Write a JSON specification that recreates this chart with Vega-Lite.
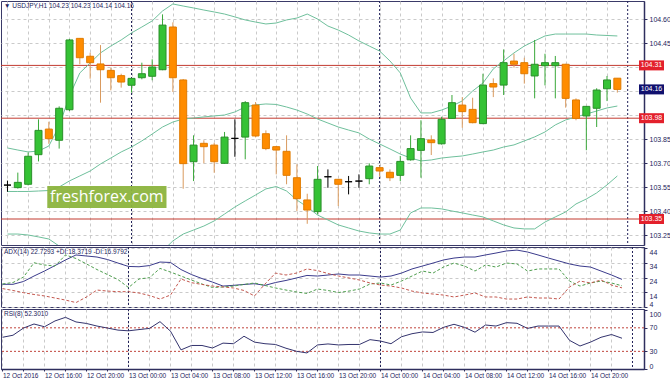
{
"$schema":"https://vega.github.io/schema/vega-lite/v6.json",
"padding":0,
"background":"white",
"spacing":2,
"bounds":"flush",
"config":{
 "view":{"stroke":"#3a3a68","strokeWidth":1},
 "font":"Liberation Sans",
 "axis":{"labelFont":"Liberation Sans","labelColor":"#1c1c5c","labelFontSize":7,"labelOverlap":false,"labelBound":false,"title":null,"gridColor":"#cacaca","gridDash":[3,3],"gridWidth":1,"domainColor":"#2e2e5e","tickColor":"#2e2e5e","tickSize":3,"labelPadding":2},
 "title":{"font":"Liberation Sans","fontWeight":"normal","fontSize":6.5,"color":"#1c1c5c","anchor":"start","frame":"group","offset":-9,"dx":3}
},
"datasets":{
"bars":[
{"t":"2016-10-12T12:00:00Z","o":103.562,"h":103.59,"l":103.52,"c":103.562,"bu":103.794,"bm":103.522,"bl":103.256,"adx":19.4,"pdi":19.6,"mdi":16.5,"rsi":53.9},
{"t":"2016-10-12T13:00:00Z","o":103.546,"h":103.64,"l":103.54,"c":103.579,"bu":103.781,"bm":103.522,"bl":103.256,"adx":19.4,"pdi":20.6,"mdi":15.2,"rsi":57.4},
{"t":"2016-10-12T14:00:00Z","o":103.567,"h":103.765,"l":103.56,"c":103.742,"bu":103.769,"bm":103.522,"bl":103.25,"adx":21.3,"pdi":24.3,"mdi":13.7,"rsi":69.6},
{"t":"2016-10-12T15:00:00Z","o":103.752,"h":103.973,"l":103.71,"c":103.904,"bu":103.775,"bm":103.525,"bl":103.238,"adx":25.0,"pdi":34.0,"mdi":12.5,"rsi":76.5},
{"t":"2016-10-12T16:00:00Z","o":103.912,"h":103.958,"l":103.82,"c":103.852,"bu":103.806,"bm":103.528,"bl":103.225,"adx":28.4,"pdi":32.5,"mdi":11.5,"rsi":71.8},
{"t":"2016-10-12T17:00:00Z","o":103.842,"h":104.054,"l":103.79,"c":104.042,"bu":103.931,"bm":103.55,"bl":103.181,"adx":32.1,"pdi":31.8,"mdi":10.1,"rsi":81.7},
{"t":"2016-10-12T18:00:00Z","o":104.033,"h":104.475,"l":104.025,"c":104.469,"bu":104.119,"bm":103.588,"bl":103.138,"adx":35.9,"pdi":39.3,"mdi":8.7,"rsi":87.8},
{"t":"2016-10-12T19:00:00Z","o":104.479,"h":104.481,"l":104.317,"c":104.358,"bu":104.263,"bm":103.619,"bl":103.1,"adx":39.3,"pdi":36.9,"mdi":7.0,"rsi":80.0},
{"t":"2016-10-12T20:00:00Z","o":104.367,"h":104.39,"l":104.227,"c":104.327,"bu":104.325,"bm":103.65,"bl":103.075,"adx":38.6,"pdi":33.2,"mdi":10.8,"rsi":77.4},
{"t":"2016-10-12T21:00:00Z","o":104.319,"h":104.437,"l":104.077,"c":104.283,"bu":104.388,"bm":103.694,"bl":103.056,"adx":37.9,"pdi":29.4,"mdi":15.5,"rsi":73.0},
{"t":"2016-10-12T22:00:00Z","o":104.279,"h":104.296,"l":104.154,"c":104.233,"bu":104.431,"bm":103.731,"bl":103.05,"adx":36.2,"pdi":26.0,"mdi":14.8,"rsi":69.6},
{"t":"2016-10-12T23:00:00Z","o":104.246,"h":104.258,"l":104.171,"c":104.206,"bu":104.469,"bm":103.769,"bl":103.05,"adx":33.8,"pdi":22.6,"mdi":14.4,"rsi":66.1},
{"t":"2016-10-13T00:00:00Z","o":104.186,"h":104.232,"l":104.14,"c":104.229,"bu":104.513,"bm":103.8,"bl":103.056,"adx":31.5,"pdi":17.2,"mdi":14.4,"rsi":64.9},
{"t":"2016-10-13T01:00:00Z","o":104.233,"h":104.327,"l":104.223,"c":104.258,"bu":104.55,"bm":103.838,"bl":103.075,"adx":31.3,"pdi":23.0,"mdi":13.5,"rsi":67.0},
{"t":"2016-10-13T02:00:00Z","o":104.242,"h":104.348,"l":104.217,"c":104.3,"bu":104.588,"bm":103.881,"bl":103.106,"adx":32.1,"pdi":23.9,"mdi":11.8,"rsi":69.0},
{"t":"2016-10-13T03:00:00Z","o":104.283,"h":104.629,"l":104.28,"c":104.562,"bu":104.65,"bm":103.925,"bl":103.15,"adx":34.5,"pdi":30.2,"mdi":9.4,"rsi":80.5},
{"t":"2016-10-13T04:00:00Z","o":104.55,"h":104.579,"l":104.144,"c":104.233,"bu":104.694,"bm":103.956,"bl":103.213,"adx":34.2,"pdi":27.7,"mdi":12.1,"rsi":64.3},
{"t":"2016-10-13T05:00:00Z","o":104.219,"h":104.225,"l":103.539,"c":103.696,"bu":104.681,"bm":103.975,"bl":103.256,"adx":29.4,"pdi":25.0,"mdi":23.0,"rsi":32.5},
{"t":"2016-10-13T06:00:00Z","o":103.708,"h":103.873,"l":103.587,"c":103.812,"bu":104.669,"bm":103.981,"bl":103.281,"adx":26.0,"pdi":22.3,"mdi":20.5,"rsi":40.0},
{"t":"2016-10-13T07:00:00Z","o":103.823,"h":103.842,"l":103.698,"c":103.802,"bu":104.656,"bm":103.988,"bl":103.306,"adx":23.3,"pdi":19.6,"mdi":19.3,"rsi":40.0},
{"t":"2016-10-13T08:00:00Z","o":103.812,"h":103.827,"l":103.639,"c":103.708,"bu":104.644,"bm":103.994,"bl":103.338,"adx":20.9,"pdi":17.2,"mdi":18.2,"rsi":35.7},
{"t":"2016-10-13T09:00:00Z","o":103.698,"h":103.894,"l":103.695,"c":103.862,"bu":104.631,"bm":104.0,"bl":103.381,"adx":18.2,"pdi":17.6,"mdi":17.6,"rsi":44.0},
{"t":"2016-10-13T10:00:00Z","o":103.854,"h":103.973,"l":103.739,"c":103.854,"bu":104.613,"bm":104.019,"bl":103.425,"adx":18.7,"pdi":18.2,"mdi":16.9,"rsi":43.0},
{"t":"2016-10-13T11:00:00Z","o":103.862,"h":104.087,"l":103.723,"c":104.077,"bu":104.594,"bm":104.05,"bl":103.463,"adx":19.3,"pdi":19.3,"mdi":15.2,"rsi":55.7},
{"t":"2016-10-13T12:00:00Z","o":104.062,"h":104.081,"l":103.86,"c":103.869,"bu":104.581,"bm":104.063,"bl":103.5,"adx":19.8,"pdi":20.3,"mdi":11.5,"rsi":45.7},
{"t":"2016-10-13T13:00:00Z","o":103.883,"h":103.904,"l":103.78,"c":103.79,"bu":104.569,"bm":104.069,"bl":103.538,"adx":18.7,"pdi":18.6,"mdi":19.6,"rsi":43.0},
{"t":"2016-10-13T14:00:00Z","o":103.802,"h":103.806,"l":103.629,"c":103.781,"bu":104.575,"bm":104.066,"bl":103.553,"adx":20.6,"pdi":16.9,"mdi":27.0,"rsi":41.7},
{"t":"2016-10-13T15:00:00Z","o":103.773,"h":103.873,"l":103.567,"c":103.623,"bu":104.594,"bm":104.05,"bl":103.525,"adx":22.0,"pdi":15.5,"mdi":25.7,"rsi":35.3},
{"t":"2016-10-13T16:00:00Z","o":103.608,"h":103.692,"l":103.4,"c":103.477,"bu":104.606,"bm":104.031,"bl":103.469,"adx":23.7,"pdi":14.2,"mdi":27.0,"rsi":30.1},
{"t":"2016-10-13T17:00:00Z","o":103.469,"h":103.508,"l":103.32,"c":103.406,"bu":104.631,"bm":104.006,"bl":103.425,"adx":25.4,"pdi":13.2,"mdi":29.8,"rsi":27.3},
{"t":"2016-10-13T18:00:00Z","o":103.396,"h":103.681,"l":103.379,"c":103.598,"bu":104.6,"bm":103.975,"bl":103.375,"adx":25.0,"pdi":16.2,"mdi":28.7,"rsi":40.9},
{"t":"2016-10-13T19:00:00Z","o":103.614,"h":103.66,"l":103.545,"c":103.614,"bu":104.556,"bm":103.95,"bl":103.344,"adx":25.7,"pdi":15.2,"mdi":26.7,"rsi":42.6},
{"t":"2016-10-13T20:00:00Z","o":103.598,"h":103.6,"l":103.431,"c":103.567,"bu":104.531,"bm":103.925,"bl":103.313,"adx":26.4,"pdi":13.8,"mdi":25.0,"rsi":40.9},
{"t":"2016-10-13T21:00:00Z","o":103.583,"h":103.619,"l":103.504,"c":103.583,"bu":104.5,"bm":103.906,"bl":103.294,"adx":25.7,"pdi":14.8,"mdi":23.7,"rsi":41.7},
{"t":"2016-10-13T22:00:00Z","o":103.587,"h":103.629,"l":103.545,"c":103.587,"bu":104.463,"bm":103.888,"bl":103.275,"adx":25.7,"pdi":16.2,"mdi":22.3,"rsi":41.7},
{"t":"2016-10-13T23:00:00Z","o":103.602,"h":103.698,"l":103.567,"c":103.681,"bu":104.431,"bm":103.85,"bl":103.263,"adx":25.0,"pdi":19.6,"mdi":20.3,"rsi":49.9},
{"t":"2016-10-14T00:00:00Z","o":103.671,"h":103.685,"l":103.614,"c":103.65,"bu":104.4,"bm":103.819,"bl":103.256,"adx":24.3,"pdi":20.3,"mdi":18.9,"rsi":47.5},
{"t":"2016-10-14T01:00:00Z","o":103.642,"h":103.66,"l":103.587,"c":103.608,"bu":104.338,"bm":103.788,"bl":103.256,"adx":25.0,"pdi":18.9,"mdi":18.2,"rsi":43.0},
{"t":"2016-10-14T02:00:00Z","o":103.623,"h":103.744,"l":103.587,"c":103.71,"bu":104.263,"bm":103.756,"bl":103.281,"adx":27.0,"pdi":21.6,"mdi":16.9,"rsi":54.8},
{"t":"2016-10-14T03:00:00Z","o":103.72,"h":103.873,"l":103.715,"c":103.79,"bu":104.106,"bm":103.731,"bl":103.388,"adx":29.8,"pdi":25.0,"mdi":14.8,"rsi":60.0},
{"t":"2016-10-14T04:00:00Z","o":103.779,"h":103.967,"l":103.608,"c":103.852,"bu":104.013,"bm":103.713,"bl":103.419,"adx":31.8,"pdi":28.4,"mdi":13.5,"rsi":63.0},
{"t":"2016-10-14T05:00:00Z","o":103.844,"h":103.873,"l":103.75,"c":103.827,"bu":104.013,"bm":103.719,"bl":103.419,"adx":33.8,"pdi":27.0,"mdi":12.8,"rsi":62.1},
{"t":"2016-10-14T06:00:00Z","o":103.82,"h":103.989,"l":103.815,"c":103.973,"bu":104.031,"bm":103.731,"bl":103.413,"adx":35.9,"pdi":31.1,"mdi":12.1,"rsi":70.8},
{"t":"2016-10-14T07:00:00Z","o":103.979,"h":104.125,"l":103.975,"c":104.077,"bu":104.056,"bm":103.738,"bl":103.4,"adx":37.2,"pdi":33.8,"mdi":10.8,"rsi":76.0},
{"t":"2016-10-14T08:00:00Z","o":104.062,"h":104.112,"l":103.92,"c":104.021,"bu":104.088,"bm":103.744,"bl":103.388,"adx":37.9,"pdi":31.8,"mdi":12.1,"rsi":70.8},
{"t":"2016-10-14T09:00:00Z","o":104.035,"h":104.108,"l":103.948,"c":103.952,"bu":104.15,"bm":103.756,"bl":103.375,"adx":37.9,"pdi":28.4,"mdi":13.5,"rsi":62.6},
{"t":"2016-10-14T10:00:00Z","o":103.946,"h":104.258,"l":103.943,"c":104.187,"bu":104.2,"bm":103.769,"bl":103.363,"adx":39.3,"pdi":32.5,"mdi":10.8,"rsi":74.8},
{"t":"2016-10-14T11:00:00Z","o":104.196,"h":104.229,"l":104.112,"c":104.175,"bu":104.288,"bm":103.781,"bl":103.338,"adx":40.6,"pdi":31.1,"mdi":10.8,"rsi":73.0},
{"t":"2016-10-14T12:00:00Z","o":104.187,"h":104.41,"l":104.125,"c":104.327,"bu":104.338,"bm":103.8,"bl":103.313,"adx":42.0,"pdi":33.8,"mdi":9.4,"rsi":78.8},
{"t":"2016-10-14T13:00:00Z","o":104.337,"h":104.383,"l":104.296,"c":104.317,"bu":104.388,"bm":103.813,"bl":103.294,"adx":42.6,"pdi":33.2,"mdi":9.4,"rsi":77.7},
{"t":"2016-10-14T14:00:00Z","o":104.327,"h":104.358,"l":104.196,"c":104.258,"bu":104.431,"bm":103.838,"bl":103.288,"adx":41.3,"pdi":28.4,"mdi":10.8,"rsi":69.0},
{"t":"2016-10-14T15:00:00Z","o":104.244,"h":104.469,"l":104.104,"c":104.317,"bu":104.463,"bm":103.863,"bl":103.288,"adx":39.3,"pdi":29.8,"mdi":10.1,"rsi":73.0},
{"t":"2016-10-14T16:00:00Z","o":104.308,"h":104.383,"l":104.185,"c":104.327,"bu":104.494,"bm":103.894,"bl":103.331,"adx":37.2,"pdi":29.8,"mdi":10.1,"rsi":73.0},
{"t":"2016-10-14T17:00:00Z","o":104.308,"h":104.369,"l":104.104,"c":104.327,"bu":104.506,"bm":103.938,"bl":103.363,"adx":35.2,"pdi":29.8,"mdi":9.4,"rsi":73.0},
{"t":"2016-10-14T18:00:00Z","o":104.317,"h":104.32,"l":104.046,"c":104.104,"bu":104.506,"bm":103.969,"bl":103.394,"adx":33.2,"pdi":21.6,"mdi":17.6,"rsi":48.7},
{"t":"2016-10-14T19:00:00Z","o":104.094,"h":104.104,"l":103.967,"c":103.979,"bu":104.506,"bm":103.988,"bl":103.444,"adx":31.8,"pdi":18.2,"mdi":21.6,"rsi":39.1},
{"t":"2016-10-14T20:00:00Z","o":103.994,"h":104.056,"l":103.78,"c":104.054,"bu":104.506,"bm":104.006,"bl":103.475,"adx":31.1,"pdi":20.3,"mdi":20.3,"rsi":45.7},
{"t":"2016-10-14T21:00:00Z","o":104.042,"h":104.167,"l":103.925,"c":104.156,"bu":104.5,"bm":104.025,"bl":103.513,"adx":28.4,"pdi":21.6,"mdi":22.3,"rsi":53.9},
{"t":"2016-10-14T22:00:00Z","o":104.164,"h":104.244,"l":104.087,"c":104.219,"bu":104.497,"bm":104.044,"bl":103.563,"adx":25.7,"pdi":20.3,"mdi":18.9,"rsi":58.6},
{"t":"2016-10-14T23:00:00Z","o":104.23,"h":104.23,"l":104.14,"c":104.16,"bu":104.494,"bm":104.056,"bl":103.619,"adx":22.7293,"pdi":18.3719,"mdi":16.9792,"rsi":52.301}
],
"levels":[{"v":104.31,"k":"lvl"},{"v":103.98,"k":"lvl"},{"v":103.35,"k":"lvl"},{"v":104.16,"k":"cur"}],
"seps":[{"t":"2016-10-13T00:00:00Z"},{"t":"2016-10-14T00:00:00Z"},{"t":"2016-10-15T00:00:00Z"}],
"rsilev":[{"lv":70},{"lv":30}],
"mark1":[{"label":"freshforex.com"}]
},
"vconcat":[
{
 "width":643,"height":244,
 "title":{"text":"▼  USDJPY,H1  104.23 104.23 104.14 104.16"},
 "layer":[
  {"data":{"name":"seps"},"mark":{"type":"rule","color":"#22225a","strokeDash":[2,2],"strokeWidth":1},
   "encoding":{"x":{"field":"t","type":"temporal","scale":{"type":"utc","domain":[{"year":2016,"month":10,"date":12,"hours":11,"minutes":51,"seconds":26,"utc":true},{"year":2016,"month":10,"date":15,"hours":1,"minutes":5,"seconds":43,"utc":true}]},
     "axis":{"values":[1476273600000,1476280800000,1476288000000,1476295200000,1476302400000,1476309600000,1476316800000,1476324000000,1476331200000,1476338400000,1476345600000,1476352800000,1476360000000,1476367200000,1476374400000,1476381600000,1476388800000,1476396000000,1476403200000,1476410400000,1476417600000,1476424800000,1476432000000,1476439200000,1476446400000,1476453600000,1476460800000,1476468000000,1476475200000,1476482400000],"tickCount":100,"labels":false,"ticks":false,"domain":false,"grid":true}}}},
  {"data":{"name":"levels"},"transform":[{"filter":"datum.k == 'lvl'"}],"mark":{"type":"rule","color":"#c23a30","strokeWidth":1},
   "encoding":{"y":{"field":"v","type":"quantitative","scale":{"domain":[103.1875,104.7125],"nice":false,"zero":false},
     "axis":{"orient":"right","values":[103.25,103.4,103.55,103.7,103.85,104.0,104.15,104.3,104.45,104.6],"tickCount":100,"labelExpr":"(datum.value > 103.99 && datum.value < 104.31) ? '' : format(datum.value, '.2f')","labelOverlap":false,"grid":true,"domainWidth":1.5}}}},
  {"data":{"name":"bars"},"mark":{"type":"line","color":"#6fc09c","strokeWidth":1,"clip":true},
   "encoding":{"x":{"field":"t","type":"temporal"},"y":{"field":"bu","type":"quantitative"}}},
  {"data":{"name":"bars"},"mark":{"type":"line","color":"#6fc09c","strokeWidth":1,"clip":true},
   "encoding":{"x":{"field":"t","type":"temporal"},"y":{"field":"bm","type":"quantitative"}}},
  {"data":{"name":"bars"},"mark":{"type":"line","color":"#6fc09c","strokeWidth":1,"clip":true},
   "encoding":{"x":{"field":"t","type":"temporal"},"y":{"field":"bl","type":"quantitative"}}},
  {"data":{"name":"bars"},"mark":{"type":"rule","strokeWidth":1,"clip":true},
   "encoding":{"x":{"field":"t","type":"temporal"},"y":{"field":"l","type":"quantitative"},"y2":{"field":"h"},
     "color":{"condition":[{"test":"datum.c == datum.o","value":"#000000"},{"test":"datum.c > datum.o","value":"#3aa83a"}],"value":"#d99a5e"}}},
  {"data":{"name":"bars"},"mark":{"type":"bar","width":7,"strokeWidth":1,"clip":true},
   "encoding":{"x":{"field":"t","type":"temporal"},"y":{"field":"o","type":"quantitative"},"y2":{"field":"c"},
     "fill":{"condition":[{"test":"datum.c == datum.o","value":"#000000"},{"test":"datum.c > datum.o","value":"#35c235"}],"value":"#ff8c00"},
     "stroke":{"condition":[{"test":"datum.c == datum.o","value":"#000000"},{"test":"datum.c > datum.o","value":"#2a8f2a"}],"value":"#e07b00"}}},
  {"data":{"name":"levels"},"mark":{"type":"point","shape":"M-1,-0.4L1,-0.4L1,0.4L-1,0.4Z","size":625,"filled":true,"opacity":1,"xOffset":12.5},
   "encoding":{"x":{"datum":{"year":2016,"month":10,"date":15,"hours":1,"minutes":5,"seconds":43,"utc":true},"type":"temporal"},"y":{"field":"v","type":"quantitative"},
     "color":{"field":"k","type":"nominal","scale":{"domain":["lvl","cur"],"range":["#e3202c","#10106e"]},"legend":null}}},
  {"data":{"name":"levels"},"mark":{"type":"text","color":"white","fontSize":7,"font":"Liberation Sans","align":"center","baseline":"middle","xOffset":12.5},
   "encoding":{"x":{"datum":{"year":2016,"month":10,"date":15,"hours":1,"minutes":5,"seconds":43,"utc":true},"type":"temporal"},"y":{"field":"v","type":"quantitative"},"text":{"field":"v","format":".2f"}}},
  {"data":{"name":"mark1"},"mark":{"type":"rect","color":"#8cb43e","opacity":0.95},
   "encoding":{"x":{"datum":{"year":2016,"month":10,"date":12,"hours":15,"minutes":51,"utc":true},"type":"temporal"},"x2":{"datum":{"year":2016,"month":10,"date":13,"hours":3,"minutes":23,"utc":true}},
     "y":{"datum":103.419,"type":"quantitative"},"y2":{"datum":103.556}}},
  {"data":{"name":"mark1"},"mark":{"type":"text","color":"white","fontSize":16,"font":"Open Sans","align":"center","baseline":"middle"},
   "encoding":{"x":{"datum":{"year":2016,"month":10,"date":12,"hours":21,"minutes":37,"utc":true},"type":"temporal"},"y":{"datum":103.4875,"type":"quantitative"},"text":{"field":"label"}}}
 ]
},
{
 "width":643,"height":60,
 "title":{"text":"ADX(14) 22.7293 +DI:18.3719 -DI:16.9792"},
 "layer":[
  {"data":{"name":"seps"},"mark":{"type":"rule","color":"#22225a","strokeDash":[2,2],"strokeWidth":1},
   "encoding":{"x":{"field":"t","type":"temporal","scale":{"type":"utc","domain":[{"year":2016,"month":10,"date":12,"hours":11,"minutes":51,"seconds":26,"utc":true},{"year":2016,"month":10,"date":15,"hours":1,"minutes":5,"seconds":43,"utc":true}]},
     "axis":{"values":[1476273600000,1476280800000,1476288000000,1476295200000,1476302400000,1476309600000,1476316800000,1476324000000,1476331200000,1476338400000,1476345600000,1476352800000,1476360000000,1476367200000,1476374400000,1476381600000,1476388800000,1476396000000,1476403200000,1476410400000,1476417600000,1476424800000,1476432000000,1476439200000,1476446400000,1476453600000,1476460800000,1476468000000,1476475200000,1476482400000],"tickCount":100,"labels":false,"ticks":false,"domain":false,"grid":true}}}},
  {"data":{"name":"bars"},"mark":{"type":"line","color":"#3b3b8c","strokeWidth":1,"clip":true},
   "encoding":{"x":{"field":"t","type":"temporal"},"y":{"field":"adx","type":"quantitative","scale":{"domain":[4,44.7],"nice":false,"zero":false},
     "axis":{"orient":"right","values":[4,14,24,34,44],"tickCount":100,"format":"d","labelOverlap":false,"grid":true,"domainWidth":1.5,"labelBaseline":{"condition":{"test":"datum.value < 5","value":"bottom"},"value":"top"}}}}},
  {"data":{"name":"bars"},"mark":{"type":"line","color":"#4e9e4e","strokeWidth":1,"strokeDash":[3,2],"clip":true},
   "encoding":{"x":{"field":"t","type":"temporal"},"y":{"field":"pdi","type":"quantitative"}}},
  {"data":{"name":"bars"},"mark":{"type":"line","color":"#c4584f","strokeWidth":1,"strokeDash":[3,2],"clip":true},
   "encoding":{"x":{"field":"t","type":"temporal"},"y":{"field":"mdi","type":"quantitative"}}}
 ]
},
{
 "width":643,"height":60,
 "title":{"text":"RSI(8) 52.3010"},
 "layer":[
  {"data":{"name":"seps"},"mark":{"type":"rule","color":"#22225a","strokeDash":[2,2],"strokeWidth":1},
   "encoding":{"x":{"field":"t","type":"temporal","scale":{"type":"utc","domain":[{"year":2016,"month":10,"date":12,"hours":11,"minutes":51,"seconds":26,"utc":true},{"year":2016,"month":10,"date":15,"hours":1,"minutes":5,"seconds":43,"utc":true}]},
     "axis":{"values":[1476273600000,1476280800000,1476288000000,1476295200000,1476302400000,1476309600000,1476316800000,1476324000000,1476331200000,1476338400000,1476345600000,1476352800000,1476360000000,1476367200000,1476374400000,1476381600000,1476388800000,1476396000000,1476403200000,1476410400000,1476417600000,1476424800000,1476432000000,1476439200000,1476446400000,1476453600000,1476460800000,1476468000000,1476475200000,1476482400000],"tickCount":100,
       "labelExpr":"utchours(datum.value) % 4 == 0 ? ((utchours(datum.value) == 12 && utcdate(datum.value) == 12) ? '12 Oct 2016' : utcFormat(datum.value, '%d %b %H:%M')) : ''",
       "labelAlign":"left","labelFontSize":6.5,"labelPadding":1,"tickSize":2,"labelOverlap":false,"grid":true,"domainWidth":1.5}}}},
  {"data":{"name":"rsilev"},"mark":{"type":"rule","color":"#c0443c","strokeDash":[2,2],"strokeWidth":1},
   "encoding":{"y":{"field":"lv","type":"quantitative","scale":{"domain":[0,102],"nice":false,"zero":false},
     "axis":{"orient":"right","values":[0,30,70,100],"tickCount":100,"format":"d","labelOverlap":false,"grid":false,"domainWidth":1.5,"labelBaseline":{"condition":[{"test":"datum.value == 100","value":"top"},{"test":"datum.value == 0","value":"bottom"}],"value":"middle"}}}}},
  {"data":{"name":"bars"},"mark":{"type":"line","color":"#34346e","strokeWidth":1,"clip":true},
   "encoding":{"x":{"field":"t","type":"temporal"},"y":{"field":"rsi","type":"quantitative"}}}
 ]
}
]
}
